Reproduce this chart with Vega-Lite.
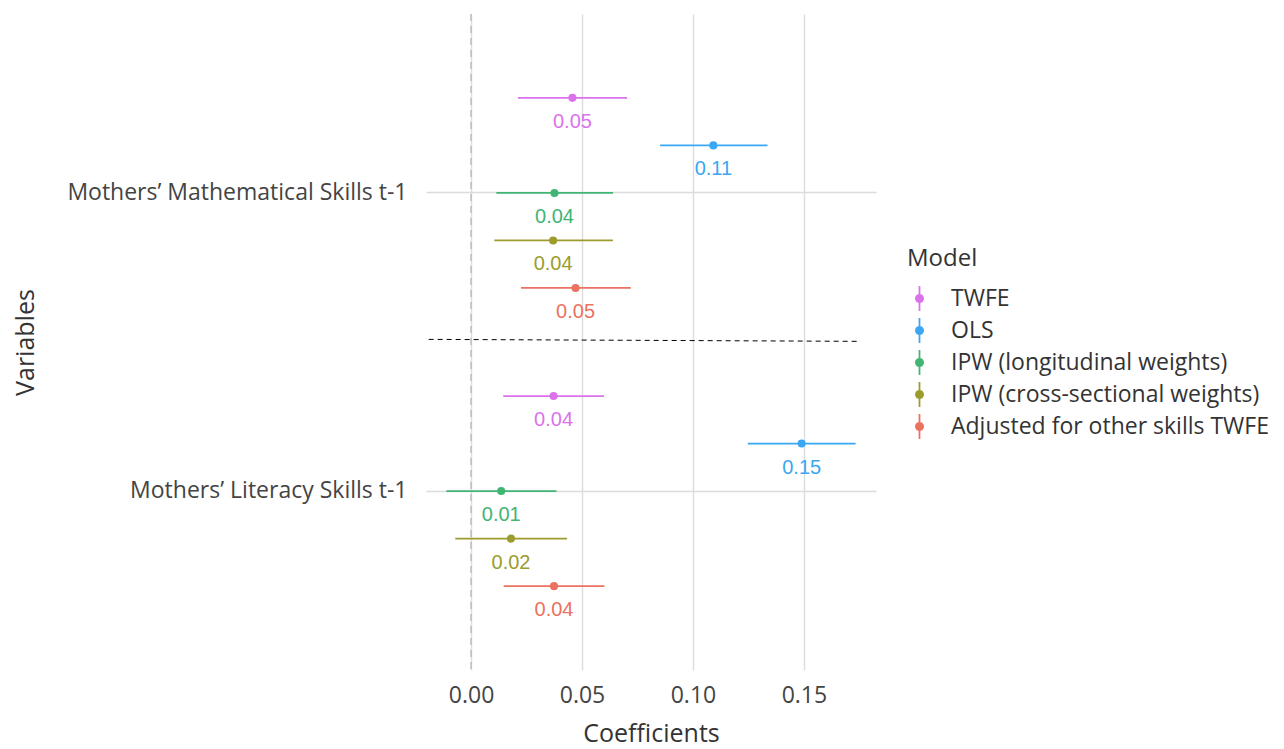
{
  "$schema": "https://vega.github.io/schema/vega-lite/v6.json",
  "width": 450,
  "height": 656,
  "autosize": {"type": "none"},
  "padding": {"left": 426, "top": 14, "right": 408, "bottom": 79},
  "background": "white",
  "config": {"view": {"stroke": null}, "font": "Open Sans"},
  "layer": [
    {
      "data": {"values": [
        {"Variable": "Mothers’ Mathematical Skills t-1", "Model": "TWFE", "estimate": 0.0457, "lo": 0.0211, "hi": 0.0703},
        {"Variable": "Mothers’ Mathematical Skills t-1", "Model": "OLS", "estimate": 0.1092, "lo": 0.0852, "hi": 0.1336},
        {"Variable": "Mothers’ Mathematical Skills t-1", "Model": "IPW (longitudinal weights)", "estimate": 0.0376, "lo": 0.0114, "hi": 0.0640},
        {"Variable": "Mothers’ Mathematical Skills t-1", "Model": "IPW (cross-sectional weights)", "estimate": 0.0370, "lo": 0.0105, "hi": 0.0639},
        {"Variable": "Mothers’ Mathematical Skills t-1", "Model": "Adjusted for other skills TWFE", "estimate": 0.0471, "lo": 0.0225, "hi": 0.0720},
        {"Variable": "Mothers’ Literacy Skills t-1", "Model": "TWFE", "estimate": 0.0372, "lo": 0.0145, "hi": 0.0599},
        {"Variable": "Mothers’ Literacy Skills t-1", "Model": "OLS", "estimate": 0.1490, "lo": 0.1247, "hi": 0.1733},
        {"Variable": "Mothers’ Literacy Skills t-1", "Model": "IPW (longitudinal weights)", "estimate": 0.0136, "lo": -0.0111, "hi": 0.0385},
        {"Variable": "Mothers’ Literacy Skills t-1", "Model": "IPW (cross-sectional weights)", "estimate": 0.0180, "lo": -0.0071, "hi": 0.0432},
        {"Variable": "Mothers’ Literacy Skills t-1", "Model": "Adjusted for other skills TWFE", "estimate": 0.0374, "lo": 0.0147, "hi": 0.0601}
      ]},
      "encoding": {
        "y": {
          "field": "Variable", "type": "nominal",
          "sort": ["Mothers’ Mathematical Skills t-1", "Mothers’ Literacy Skills t-1"],
          "scale": {"type": "band", "paddingInner": 0.203, "paddingOuter": 0.2015},
          "title": "Variables",
          "axis": {
            "ticks": false, "domain": false, "grid": true, "bandPosition": 0.5,
            "gridColor": "#dcdcdc", "gridWidth": 1.4,
            "labelFont": "Open Sans", "labelFontSize": 23, "labelColor": "#444", "labelPadding": 19, "labelLimit": 0,
            "titleFont": "Open Sans", "titleFontSize": 25, "titleFontWeight": "normal", "titleColor": "#333",
            "titleX": -393, "titleY": 328, "titleAngle": 270, "titleBaseline": "alphabetic", "titleAlign": "center"
          }
        },
        "yOffset": {
          "field": "Model", "type": "nominal",
          "sort": ["TWFE", "OLS", "IPW (longitudinal weights)", "IPW (cross-sectional weights)", "Adjusted for other skills TWFE"],
          "scale": {"paddingInner": 0, "paddingOuter": 0}
        },
        "color": {
          "field": "Model", "type": "nominal",
          "scale": {
            "domain": ["TWFE", "OLS", "IPW (longitudinal weights)", "IPW (cross-sectional weights)", "Adjusted for other skills TWFE"],
            "range": ["#DB72EC", "#3AA7F2", "#40B574", "#9C9C2C", "#EB7160"]
          },
          "legend": {
            "orient": "none", "legendX": 481, "legendY": 233,
            "title": "Model", "titleFont": "Open Sans", "titleFontSize": 24, "titleFontWeight": "normal", "titleColor": "#333", "titlePadding": 15,
            "labelFont": "Open Sans", "labelFontSize": 23, "labelColor": "#333", "labelOffset": 19, "labelLimit": 0,
            "symbolType": "M-0.07,-1L0.07,-1L0.07,1L-0.07,1Z M-0.36,0A0.36,0.36,0,1,1,0.36,0A0.36,0.36,0,1,1,-0.36,0Z",
            "symbolSize": 625, "symbolStrokeWidth": 0, "rowPadding": 7
          }
        }
      },
      "layer": [
        {
          "data": {"values": [{"zero": 0}]},
          "mark": {"type": "rule", "color": "#bdbdbd", "strokeDash": [7, 5], "strokeWidth": 1.5},
          "encoding": {
            "x": {"field": "zero", "type": "quantitative"},
            "y": null, "yOffset": null, "color": null
          }
        },
        {
          "mark": {"type": "rule", "strokeWidth": 1.7},
          "encoding": {
            "x": {
              "field": "lo", "type": "quantitative",
              "scale": {"domain": [-0.0203, 0.1825], "nice": false, "zero": false},
              "title": "Coefficients",
              "axis": {
                "values": [0, 0.05, 0.1, 0.15], "format": ".2f", "ticks": false, "domain": false, "grid": true,
                "gridColor": "#dcdcdc", "gridWidth": 1.4,
                "labelFont": "Open Sans", "labelFontSize": 23, "labelColor": "#444", "labelPadding": 14,
                "titleFont": "Open Sans", "titleFontSize": 25, "titleFontWeight": "normal", "titleColor": "#333", "titlePadding": 14
              }
            },
            "x2": {"field": "hi"}
          }
        },
        {
          "mark": {"type": "point", "filled": true, "size": 65, "opacity": 1},
          "encoding": {"x": {"field": "estimate", "type": "quantitative"}}
        },
        {
          "mark": {"type": "text", "font": "Liberation Sans", "fontSize": 20, "baseline": "middle", "dy": 24},
          "encoding": {
            "x": {"field": "estimate", "type": "quantitative"},
            "text": {"field": "estimate", "type": "quantitative", "format": ".2f"}
          }
        }
      ]
    },
    {
      "data": {"values": [{"a": 0}]},
      "mark": {"type": "rule", "color": "black", "strokeDash": [5, 4], "strokeWidth": 1},
      "encoding": {
        "x": {"datum": -0.0191, "type": "quantitative"},
        "x2": {"datum": 0.1752},
        "y": {"datum": 0.504, "type": "quantitative", "scale": {"domain": [0, 1], "nice": false, "zero": false}, "axis": null},
        "y2": {"datum": 0.501}
      }
    }
  ],
  "resolve": {"scale": {"y": "independent"}}
}
